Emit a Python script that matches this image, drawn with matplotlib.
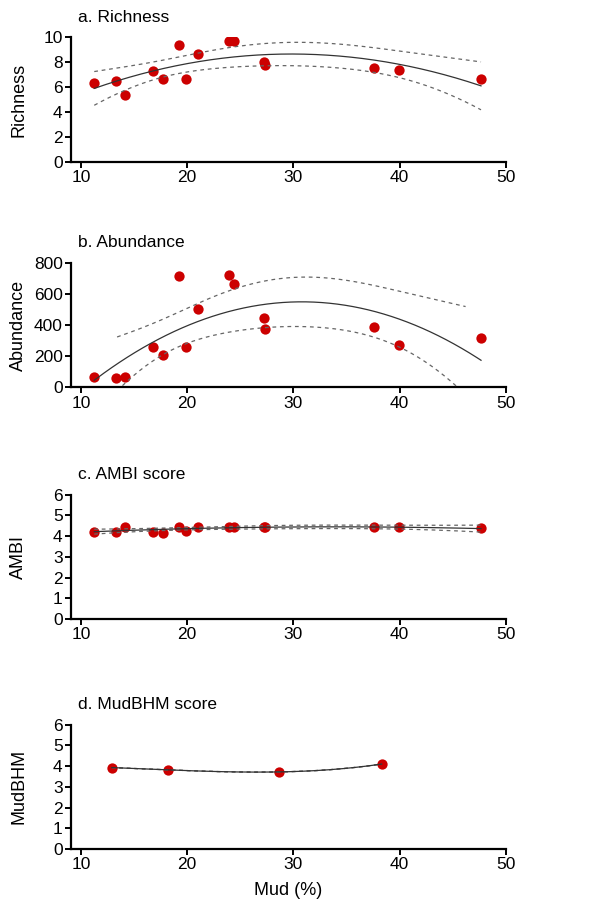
import numpy as np
import matplotlib
matplotlib.use('Agg')
from matplotlib import pyplot as plt

plt.rcParams['font.family'] = ['Liberation Sans', 'DejaVu Sans']

# mud content (%) of the sites used in panels a-c
mud = [11.25, 13.3, 14.1, 16.75, 17.75, 19.2, 19.9, 21.05, 23.9, 24.4, 27.2, 27.3, 37.6, 39.93, 47.65]
richness = [6.35, 6.53, 5.36, 7.28, 6.67, 9.36, 6.67, 8.67, 9.74, 9.7, 8.05, 7.74, 7.52, 7.36, 6.67]
abundance = [68, 58, 68, 262, 208, 714, 262, 507, 724, 664, 445, 376, 387, 271, 320]
ambi = [4.22, 4.22, 4.42, 4.2, 4.17, 4.46, 4.26, 4.46, 4.44, 4.42, 4.45, 4.42, 4.42, 4.42, 4.37]

# panel d has its own, pooled sites
mud_d = [12.9, 18.15, 28.6, 38.3]
mudbhm = [3.93, 3.82, 3.72, 4.1]

# two sided 95% t quantiles
t95 = {0: 0.0, 1: 12.706, 12: 2.179}


def poly_fit(x, y, xs, deg=2):
    x = np.asarray(x, float)
    y = np.asarray(y, float)
    X = np.column_stack([x ** k for k in range(deg + 1)])
    beta, *_ = np.linalg.lstsq(X, y, rcond=None)
    df = len(x) - (deg + 1)
    Xs = np.column_stack([xs ** k for k in range(deg + 1)])
    fit = Xs @ beta
    if df == 0:
        # curve goes through every point, no spread left
        return fit, fit, fit
    s2 = np.sum((y - X @ beta) ** 2) / df
    cov = np.linalg.inv(X.T @ X)
    se = np.sqrt(s2 * np.einsum('ij,jk,ik->i', Xs, cov, Xs))
    return fit, fit - t95[df] * se, fit + t95[df] * se


panels = [
    ('a. Richness', 'Richness', mud, richness, (0, 10), np.arange(0, 11, 2), None, 2),
    ('b. Abundance', 'Abundance', mud, abundance, (0, 800), np.arange(0, 801, 200), (13.4, 46.2), 2),
    ('c. AMBI score', 'AMBI', mud, ambi, (0, 6), np.arange(0, 7, 1), None, 2),
    ('d. MudBHM score', 'MudBHM', mud_d, mudbhm, (0, 6), np.arange(0, 7, 1), None, 3),
]

fig = plt.figure(figsize=(5.92, 9.01), dpi=100)
bottoms = [0.8205, 0.5701, 0.3130, 0.0577]

for (title, ylab, x, y, ylim, yticks, band, deg), b in zip(panels, bottoms):
    ax = fig.add_axes([0.1199, b, 0.7348, 0.1380])
    xs = np.linspace(min(x), max(x), 200)
    fit, lo, hi = poly_fit(x, y, xs, deg)
    ax.scatter(x, y, s=55, color='#cc0000', zorder=2, linewidths=0)
    if band is not None:
        xb = np.linspace(band[0], band[1], 200)
        _, lo, hi = poly_fit(x, y, xb, deg)
    else:
        xb = xs
    ax.plot(xb, lo, color='#666666', lw=0.9, ls=(0, (3, 3)), zorder=3)
    ax.plot(xb, hi, color='#666666', lw=0.9, ls=(0, (3, 3)), zorder=3)
    ax.plot(xs, fit, color='#333333', lw=0.9, zorder=3)

    ax.set_xlim(9.06, 50)
    ax.set_ylim(*ylim)
    ax.set_xticks([10, 20, 30, 40, 50])
    ax.set_yticks(yticks)
    for side in ['top', 'right']:
        ax.spines[side].set_visible(False)
    for side in ['left', 'bottom']:
        ax.spines[side].set_linewidth(1.6)
    ax.tick_params(labelsize=12.5, length=4, width=1.4, pad=2)
    ax.set_ylabel(ylab, fontsize=13)
    ax.yaxis.set_label_coords(-0.101, 0.5)
    ax.text(0.016, 1.125, title, transform=ax.transAxes, fontsize=12.5, va='baseline', ha='left')

ax.set_xlabel('Mud (%)', fontsize=13, labelpad=7)

plt.savefig('out.png', dpi=100)
